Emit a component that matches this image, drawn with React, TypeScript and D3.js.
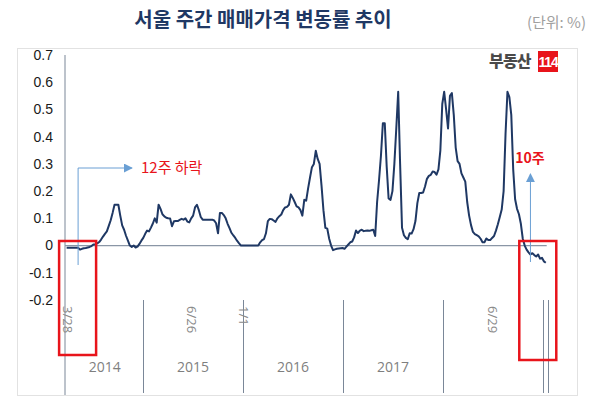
import React from "react";
import * as d3 from "d3";

// Weekly change rate (%) of Seoul apartment sale prices, weekly from 2014-03-28
const values2014 = [
  -0.008, -0.008, -0.008, -0.008, -0.008, -0.008, -0.008, -0.015, -0.012, -0.01,
  -0.009, -0.007, -0.005, -0.002, 0.004, 0.005, 0.008, 0.013, 0.022, 0.033,
  0.043, 0.052, 0.072, 0.093, 0.12, 0.15, 0.15, 0.15, 0.11, 0.074,
  0.058, 0.036, 0.018, 0, -0.005, 0, -0.007, -0.004, 0.006, 0.018,
];
const values2015 = [
  0.028, 0.043, 0.055, 0.052, 0.066, 0.081, 0.1, 0.084, 0.15, 0.135,
  0.115, 0.107, 0.102, 0.1, 0.099, 0.071, 0.089, 0.09, 0.09, 0.094,
  0.098, 0.095, 0.1, 0.088, 0.085, 0.1, 0.11, 0.14, 0.15, 0.13,
  0.105, 0.095, 0.095, 0.095, 0.095, 0.095, 0.095, 0.092, 0.082, 0.045,
  0.12, 0.12, 0.112, 0.1, 0.08, 0.064, 0.047, 0.037, 0.028, 0.017,
  0.008, 0,
];
const values2016 = [
  0, 0, 0, 0, 0, 0, 0, 0, 0,
  0.012, 0.02, 0.024, 0.045, 0.09, 0.098, 0.097, 0.092, 0.087,
  0.1, 0.108, 0.114, 0.13, 0.14, 0.142, 0.15, 0.188, 0.175, 0.16,
  0.144, 0.14, 0.13, 0.11, 0.168, 0.165, 0.21, 0.25, 0.288, 0.3,
  0.348, 0.318, 0.3, 0.22, 0.13, 0.065, 0.062, 0.025, 0, -0.017,
  -0.014, -0.012, -0.011, -0.01, -0.009,
];
const values2017 = [
  -0.012, -0.004, 0.004, 0.012, 0.015,
  0.03, 0.055, 0.046, 0.055, 0.058, 0.053, 0.054, 0.055, 0.054, 0.056,
  0.058, 0.035, 0.16, 0.24, 0.33, 0.449, 0.449, 0.29, 0.173, 0.168,
  0.2, 0.3, 0.43, 0.565, 0.3, 0.065, 0.038, 0.028, 0.023, 0.045,
  0.044, 0.06, 0.09, 0.156, 0.193, 0.193, 0.195, 0.217, 0.245, 0.256,
  0.26, 0.272, 0.27, 0.26, 0.28, 0.35, 0.52,
];
const values2018 = [
  0.565, 0.5, 0.43,
  0.55, 0.56, 0.48, 0.36, 0.31, 0.3, 0.265, 0.25, 0.235, 0.16,
  0.11, 0.075, 0.05, 0.042, 0.038, 0.034, 0.025, 0.012, 0.012, 0.026,
  0.02, 0.02, 0.028, 0.035, 0.055, 0.078, 0.105, 0.132, 0.2, 0.41,
  0.565, 0.545, 0.48, 0.28, 0.17, 0.135, 0.115, 0.08, 0.025, 0,
  -0.015, -0.025, -0.033, -0.028, -0.035, -0.04, -0.033, -0.048, -0.045,
];
const values2019 = [-0.058, -0.063];

const yTicks = [0.7, 0.6, 0.5, 0.4, 0.3, 0.2, 0.1, 0, -0.1, -0.2];
const yearLabels = ["2014", "2015", "2016", "2017"];
const yearBounds = ["2014-03-28", "2015-01-01", "2016-01-01", "2017-01-01", "2018-01-01"];
const separatorDates = ["2015-01-01", "2016-01-01", "2017-01-01", "2018-01-01", "2019-01-01", "2019-01-18"];
const dateMarks = [
  { date: "2014-03-28", label: "3/28" },
  { date: "2015-06-26", label: "6/26" },
  { date: "2016-01-01", label: "1/1" },
  { date: "2018-06-29", label: "6/29" },
];

const title = "서울 주간 매매가격 변동률 추이";
const unitLabel = "(단위: %)";
const leftNote = "12주 하락";
const rightNote = "10주";

const parse = d3.timeParse("%Y-%m-%d");
const START = parse("2014-03-28") as Date;
const END = parse("2019-01-18") as Date;

const allValues = [...values2014, ...values2015, ...values2016, ...values2017, ...values2018, ...values2019];
const series = allValues.map((v, i) => ({ date: d3.timeDay.offset(START, 7 * i), value: v }));

export default function App() {
  const W = 600;
  const H = 400;
  const x = d3.scaleTime().domain([START, END]).range([66.6, 547.7]);
  const y = d3.scaleLinear().domain([-0.2, 0.7]).range([300, 55]);
  const line = d3
    .line<{ date: Date; value: number }>()
    .x((d) => x(d.date))
    .y((d) => y(d.value));

  const axisX = 65;
  const bottom = 395;
  const navy = "#1f3864";
  const sepColor = "#7a8798";
  const blue = "#6a9fd4";
  const red = "#e8141b";
  const korean = "'Noto Sans CJK KR', 'Noto Sans', sans-serif";
  const latin = "'Liberation Sans', Arial, sans-serif";
  const sans = "'Open Sans', 'Noto Sans', sans-serif";

  const lastDate = series[series.length - 1].date;
  const leftArrowX = x(d3.timeDay.offset(START, 7 * 6));
  const rightArrowX = x(d3.timeDay.offset(START, 7 * 242));

  return (
    <svg width={W} height={H} style={{ position: "absolute", left: 0, top: 0, background: "#fff" }}>
      <defs>
        <marker id="arrowB" viewBox="0 0 10 10" refX="9" refY="5" markerWidth="9" markerHeight="9" orient="auto">
          <path d="M0,0 L10,5 L0,10 z" fill={blue} />
        </marker>
      </defs>
      <rect x={0} y={0} width={W} height={H} fill="#fff" />
      {/* title */}
      <text x={263} y={27} textAnchor="middle" fontFamily={korean} fontWeight={700} fontSize={20} fill={navy}>
        {title}
      </text>
      <text x={586} y={28} textAnchor="end" fontFamily={korean} fontSize={15} fill="#a0a0a0">
        {unitLabel}
      </text>
      {/* panel */}
      <rect x={17.5} y={48.5} width={560} height={347} fill="none" stroke="#e2e2e2" strokeWidth={1} />

      {/* logo */}
      <text x={489} y={67} fontFamily={korean} fontWeight={900} fontSize={16} fill="#4a4a4a" letterSpacing={-0.8}>
        부동산
      </text>
      <rect x={538} y={51} width={20} height={21} fill={red} />
      <text x={548} y={67} textAnchor="middle" fontFamily={latin} fontWeight={700} fontSize={14} fill="#fff" letterSpacing={-1.2}>
        114
      </text>

      {/* y tick labels */}
      {yTicks.map((t) => (
        <text
          key={t}
          x={53}
          y={y(t)}
          dy="0.35em"
          textAnchor="end"
          fontFamily={latin}
          fontSize={14}
          fill="#1a1a1a"
        >
          {t}
        </text>
      ))}

      {/* y axis line */}
      <line x1={axisX} x2={axisX} y1={y(0.7)} y2={bottom} stroke={sepColor} strokeWidth={1} />
      {/* zero line */}
      <line x1={axisX} x2={x(END) - 1} y1={y(0)} y2={y(0)} stroke="#8a96a6" strokeWidth={1.3} />

      {/* year separators */}
      {separatorDates.map((d) => {
        const xx = Math.round(x(parse(d) as Date)) + 0.5;
        return <line key={d} x1={xx} x2={xx} y1={300} y2={bottom - 2} stroke={sepColor} strokeWidth={1} />;
      })}
      {/* year labels */}
      {yearLabels.map((lab, i) => {
        const a = x(parse(yearBounds[i]) as Date);
        const b = x(parse(yearBounds[i + 1]) as Date);
        return (
          <text key={lab} x={(a + b) / 2} y={372} textAnchor="middle" fontFamily={sans} fontSize={14} fill="#7f7f7f">
            {lab}
          </text>
        );
      })}
      {/* date marks */}
      {dateMarks.map((m) => {
        const xx = x(parse(m.date) as Date) + 1;
        return (
          <text
            key={m.label}
            transform={`translate(${xx},306) rotate(90)`}
            dominantBaseline="central"
            fontFamily={sans}
            fontSize={13}
            fill="#8a8a8a"
          >
            {m.label}
          </text>
        );
      })}

      {/* data line */}
      <path d={line(series) || ""} fill="none" stroke={navy} strokeWidth={2} strokeLinejoin="round" />

      {/* left arrow annotation */}
      <path
        d={`M${leftArrowX},${265} L${leftArrowX},${168} L${132},${168}`}
        fill="none"
        stroke={blue}
        strokeWidth={1}
        markerEnd="url(#arrowB)"
      />
      <text x={141} y={168} dy="0.35em" fontFamily={korean} fontSize={15} fill={red}>
        {leftNote}
      </text>
      {/* right arrow annotation */}
      <path
        d={`M${rightArrowX},${262} L${rightArrowX},${174}`}
        fill="none"
        stroke={blue}
        strokeWidth={1}
        markerEnd="url(#arrowB)"
      />
      <text x={530} y={158} dy="0.35em" textAnchor="middle" fontFamily={korean} fontSize={14} fontWeight={700} fill={red}>
        {rightNote}
      </text>

      {/* red highlight boxes */}
      <rect x={x(START) - 7.5} y={241} width={37} height={114} fill="none" stroke={red} strokeWidth={2.5} />
      <rect x={x(lastDate) - 26.5} y={241} width={37} height={119} fill="none" stroke={red} strokeWidth={2.5} />
    </svg>
  );
}
